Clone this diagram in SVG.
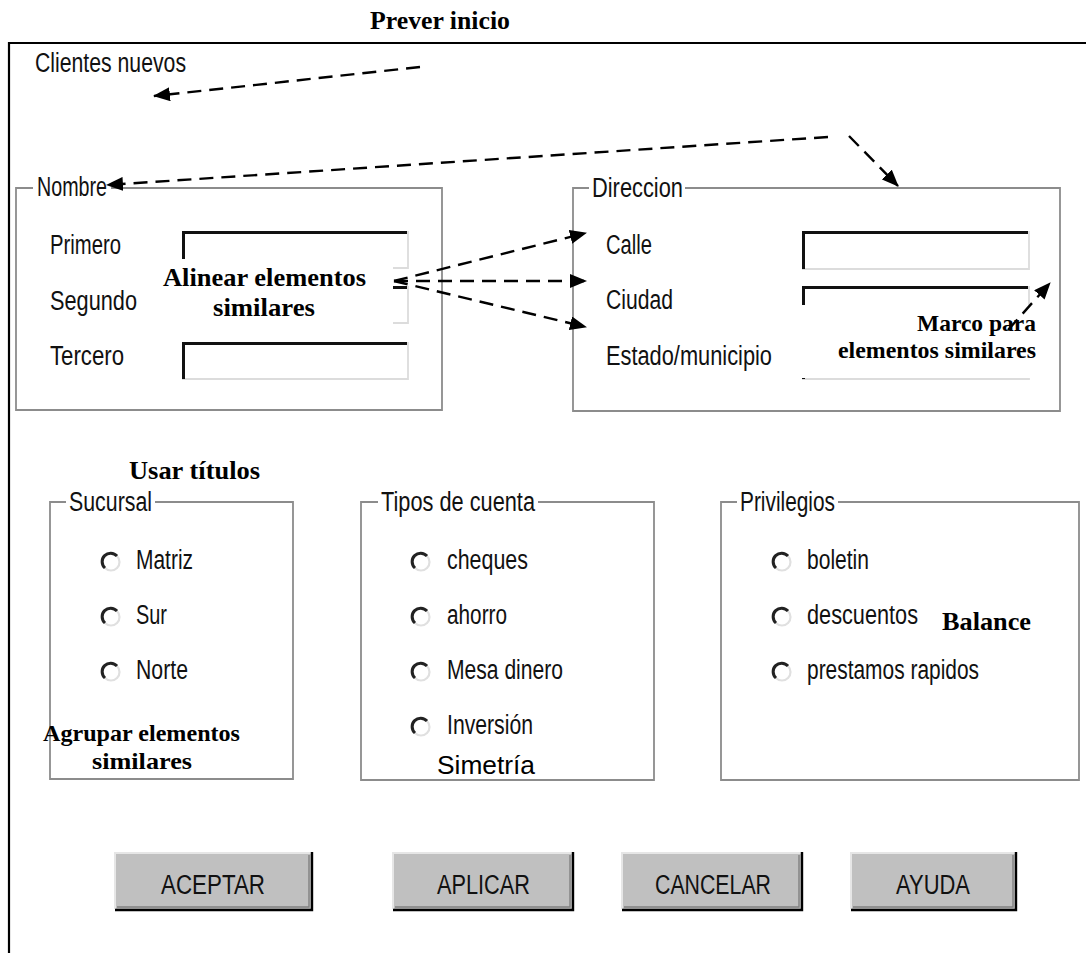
<svg xmlns="http://www.w3.org/2000/svg" width="1086" height="953" viewBox="0 0 1086 953">
  <style>
    .ui { font-family: "Liberation Sans", Arial, sans-serif; font-size: 27px; fill: #111; }
    .btn-t { font-family: "Liberation Sans", Arial, sans-serif; font-size: 27px; fill: #111; }
    .note { font-family: "Liberation Serif", "Times New Roman", serif; font-weight: bold; font-size: 25px; fill: #000; }
    .note-s { font-family: "Liberation Serif", "Times New Roman", serif; font-weight: bold; font-size: 23px; fill: #000; }
    .plain { font-family: "Liberation Sans", Arial, sans-serif; font-size: 25px; fill: #000; }
    .gb { fill: none; stroke: #8c8c8c; stroke-width: 1.8; }
    .fld-dark { fill: none; stroke: #111; stroke-width: 3; }
    .fld-light { fill: none; stroke: #dcdcdc; stroke-width: 1.8; }
    .conn { fill: none; stroke: #000; stroke-width: 2.4; stroke-dasharray: 14 8; }
    .radio-lo { fill: #fff; stroke: #e0e0e0; stroke-width: 2.2; }
    .radio-hi { fill: none; stroke: #222; stroke-width: 3; }
    .btn { fill: #c0c0c0; }
    .mask { fill: #fff; }
  </style>
  <defs>
    <marker id="head" markerUnits="userSpaceOnUse" markerWidth="18" markerHeight="14" refX="16" refY="7" orient="auto">
      <path d="M0,0 L17,7 L0,14 Z" fill="#000"/>
    </marker>
  </defs>

  <rect width="1086" height="953" fill="#fff"/>

  <!-- window frame -->
  <g id="frame">
    <path d="M9,953 V43 H1086" fill="none" stroke="#000" stroke-width="2.2"/>
    <text class="ui" x="35" y="72" textLength="151" lengthAdjust="spacingAndGlyphs">Clientes nuevos</text>
  </g>

  <!-- Nombre group -->
  <g id="nombre">
    <path class="gb" d="M33,188 H16 V410 H442 V188 H111"/>
    <text class="ui" x="37" y="196" textLength="70" lengthAdjust="spacingAndGlyphs">Nombre</text>
    <text class="ui" x="50" y="254" textLength="71" lengthAdjust="spacingAndGlyphs">Primero</text>
    <text class="ui" x="50" y="310" textLength="87" lengthAdjust="spacingAndGlyphs">Segundo</text>
    <text class="ui" x="50" y="365" textLength="74" lengthAdjust="spacingAndGlyphs">Tercero</text>
    <g id="nombre-f1">
      <path class="fld-light" d="M408,231 V268 H182"/>
      <path class="fld-dark" d="M183.5,268 V232.5 H407"/>
    </g>
    <g id="nombre-f2">
      <path class="fld-light" d="M408,286 V323 H182"/>
      <path class="fld-dark" d="M183.5,323 V287.5 H407"/>
    </g>
    <g id="nombre-f3">
      <path class="fld-light" d="M408,342 V379 H182"/>
      <path class="fld-dark" d="M183.5,379 V343.5 H407"/>
    </g>
  </g>

  <!-- Direccion group -->
  <g id="direccion">
    <path class="gb" d="M589,188 H573 V411 H1060 V188 H685"/>
    <text class="ui" x="592" y="197" textLength="91" lengthAdjust="spacingAndGlyphs">Direccion</text>
    <text class="ui" x="606" y="254" textLength="46" lengthAdjust="spacingAndGlyphs">Calle</text>
    <text class="ui" x="606" y="309" textLength="67" lengthAdjust="spacingAndGlyphs">Ciudad</text>
    <text class="ui" x="606" y="365" textLength="166" lengthAdjust="spacingAndGlyphs">Estado/municipio</text>
    <g id="dir-f1">
      <path class="fld-light" d="M1029,231 V269 H802"/>
      <path class="fld-dark" d="M803.5,269 V232.5 H1028"/>
    </g>
    <g id="dir-f2">
      <path class="fld-light" d="M1029,286 V323 H802"/>
      <path class="fld-dark" d="M803.5,323 V287.5 H1028"/>
    </g>
    <g id="dir-f3">
      <path class="fld-light" d="M1029,342 V379 H802"/>
      <path class="fld-dark" d="M803.5,379 V343.5 H1028"/>
    </g>
  </g>

  <!-- Sucursal group -->
  <g id="sucursal">
    <path class="gb" d="M66,502 H50 V779 H293 V502 H155"/>
    <text class="ui" x="69" y="511" textLength="83" lengthAdjust="spacingAndGlyphs">Sucursal</text>
    <g id="r-matriz">
      <circle class="radio-lo" cx="111" cy="562" r="8.5"/>
      <path class="radio-hi" d="M117,556 A8.5,8.5 0 1 0 105,568"/>
      <text class="ui" x="136" y="569" textLength="57" lengthAdjust="spacingAndGlyphs">Matriz</text>
    </g>
    <g id="r-sur">
      <circle class="radio-lo" cx="111" cy="617" r="8.5"/>
      <path class="radio-hi" d="M117,611 A8.5,8.5 0 1 0 105,623"/>
      <text class="ui" x="136" y="624" textLength="31" lengthAdjust="spacingAndGlyphs">Sur</text>
    </g>
    <g id="r-norte">
      <circle class="radio-lo" cx="111" cy="672" r="8.5"/>
      <path class="radio-hi" d="M117,666 A8.5,8.5 0 1 0 105,678"/>
      <text class="ui" x="136" y="679" textLength="52" lengthAdjust="spacingAndGlyphs">Norte</text>
    </g>
  </g>

  <!-- Tipos de cuenta group -->
  <g id="tipos">
    <path class="gb" d="M378,502 H361 V780 H654 V502 H538"/>
    <text class="ui" x="381" y="511" textLength="154" lengthAdjust="spacingAndGlyphs">Tipos de cuenta</text>
    <g id="r-cheques">
      <circle class="radio-lo" cx="421" cy="562" r="8.5"/>
      <path class="radio-hi" d="M427,556 A8.5,8.5 0 1 0 415,568"/>
      <text class="ui" x="447" y="569" textLength="81" lengthAdjust="spacingAndGlyphs">cheques</text>
    </g>
    <g id="r-ahorro">
      <circle class="radio-lo" cx="421" cy="617" r="8.5"/>
      <path class="radio-hi" d="M427,611 A8.5,8.5 0 1 0 415,623"/>
      <text class="ui" x="447" y="624" textLength="60" lengthAdjust="spacingAndGlyphs">ahorro</text>
    </g>
    <g id="r-mesa">
      <circle class="radio-lo" cx="421" cy="672" r="8.5"/>
      <path class="radio-hi" d="M427,666 A8.5,8.5 0 1 0 415,678"/>
      <text class="ui" x="447" y="679" textLength="116" lengthAdjust="spacingAndGlyphs">Mesa dinero</text>
    </g>
    <g id="r-inversion">
      <circle class="radio-lo" cx="421" cy="727" r="8.5"/>
      <path class="radio-hi" d="M427,721 A8.5,8.5 0 1 0 415,733"/>
      <text class="ui" x="447" y="734" textLength="86" lengthAdjust="spacingAndGlyphs">Inversión</text>
    </g>
  </g>

  <!-- Privilegios group -->
  <g id="privilegios">
    <path class="gb" d="M737,502 H721 V780 H1079 V502 H838"/>
    <text class="ui" x="740" y="511" textLength="95" lengthAdjust="spacingAndGlyphs">Privilegios</text>
    <g id="r-boletin">
      <circle class="radio-lo" cx="782" cy="562" r="8.5"/>
      <path class="radio-hi" d="M788,556 A8.5,8.5 0 1 0 776,568"/>
      <text class="ui" x="807" y="569" textLength="62" lengthAdjust="spacingAndGlyphs">boletin</text>
    </g>
    <g id="r-descuentos">
      <circle class="radio-lo" cx="782" cy="617" r="8.5"/>
      <path class="radio-hi" d="M788,611 A8.5,8.5 0 1 0 776,623"/>
      <text class="ui" x="807" y="624" textLength="111" lengthAdjust="spacingAndGlyphs">descuentos</text>
    </g>
    <g id="r-prestamos">
      <circle class="radio-lo" cx="782" cy="672" r="8.5"/>
      <path class="radio-hi" d="M788,666 A8.5,8.5 0 1 0 776,678"/>
      <text class="ui" x="807" y="679" textLength="172" lengthAdjust="spacingAndGlyphs">prestamos rapidos</text>
    </g>
  </g>

  <!-- push buttons -->
  <g id="btn-aceptar">
    <rect class="btn" x="115" y="853" width="197" height="57"/>
    <path d="M115,909 V853 H311" fill="none" stroke="#e6e6e6" stroke-width="2"/>
    <path d="M115,910 H312 V852" fill="none" stroke="#000" stroke-width="2.4"/>
    <path d="M117,907 H309 V855" fill="none" stroke="#808080" stroke-width="1.4"/>
    <text class="btn-t" x="161" y="894" textLength="104" lengthAdjust="spacingAndGlyphs">ACEPTAR</text>
  </g>
  <g id="btn-aplicar">
    <rect class="btn" x="393" y="853" width="180" height="57"/>
    <path d="M393,909 V853 H572" fill="none" stroke="#e6e6e6" stroke-width="2"/>
    <path d="M393,910 H573 V852" fill="none" stroke="#000" stroke-width="2.4"/>
    <path d="M395,907 H570 V855" fill="none" stroke="#808080" stroke-width="1.4"/>
    <text class="btn-t" x="437" y="894" textLength="93" lengthAdjust="spacingAndGlyphs">APLICAR</text>
  </g>
  <g id="btn-cancelar">
    <rect class="btn" x="622" y="853" width="180" height="57"/>
    <path d="M622,909 V853 H801" fill="none" stroke="#e6e6e6" stroke-width="2"/>
    <path d="M622,910 H802 V852" fill="none" stroke="#000" stroke-width="2.4"/>
    <path d="M624,907 H799 V855" fill="none" stroke="#808080" stroke-width="1.4"/>
    <text class="btn-t" x="655" y="894" textLength="116" lengthAdjust="spacingAndGlyphs">CANCELAR</text>
  </g>
  <g id="btn-ayuda">
    <rect class="btn" x="851" y="853" width="165" height="57"/>
    <path d="M851,909 V853 H1015" fill="none" stroke="#e6e6e6" stroke-width="2"/>
    <path d="M851,910 H1016 V852" fill="none" stroke="#000" stroke-width="2.4"/>
    <path d="M853,907 H1013 V855" fill="none" stroke="#808080" stroke-width="1.4"/>
    <text class="btn-t" x="896" y="894" textLength="74" lengthAdjust="spacingAndGlyphs">AYUDA</text>
  </g>

  <!-- design notes -->
  <g id="note-prever">
    <text class="note" x="370" y="29" textLength="140" lengthAdjust="spacingAndGlyphs">Prever inicio</text>
  </g>
  <g id="note-alinear">
    <rect class="mask" x="160" y="259" width="233" height="67"/>
    <text class="note" x="163" y="286" textLength="203" lengthAdjust="spacingAndGlyphs">Alinear elementos</text>
    <text class="note" x="213" y="316" textLength="102" lengthAdjust="spacingAndGlyphs">similares</text>
  </g>
  <g id="note-marco">
    <rect class="mask" x="802" y="305" width="229" height="73"/>
    <text class="note-s" x="917" y="331" textLength="119" lengthAdjust="spacingAndGlyphs">Marco para</text>
    <text class="note-s" x="838" y="358" textLength="198" lengthAdjust="spacingAndGlyphs">elementos similares</text>
  </g>
  <g id="note-titulos">
    <text class="note" x="129" y="479" textLength="131" lengthAdjust="spacingAndGlyphs">Usar títulos</text>
  </g>
  <g id="note-agrupar">
    <text class="note-s" x="43" y="741" textLength="197" lengthAdjust="spacingAndGlyphs">Agrupar elementos</text>
    <text class="note-s" x="92" y="769" textLength="100" lengthAdjust="spacingAndGlyphs">similares</text>
  </g>
  <g id="note-simetria">
    <text class="plain" x="437" y="774" textLength="98" lengthAdjust="spacingAndGlyphs">Simetría</text>
  </g>
  <g id="note-balance">
    <text class="note" x="942" y="630" textLength="89" lengthAdjust="spacingAndGlyphs">Balance</text>
  </g>

  <!-- connectors -->
  <g id="connectors">
    <line class="conn" x1="420" y1="67" x2="154" y2="96" marker-end="url(#head)"/>
    <line class="conn" x1="828" y1="137" x2="107" y2="185" marker-end="url(#head)"/>
    <line class="conn" x1="849" y1="136" x2="898" y2="186" marker-end="url(#head)"/>
    <line class="conn" x1="394" y1="281" x2="586" y2="233" marker-end="url(#head)"/>
    <line class="conn" x1="394" y1="281" x2="586" y2="281" marker-end="url(#head)"/>
    <line class="conn" x1="394" y1="281" x2="586" y2="327" marker-end="url(#head)"/>
    <line class="conn" x1="1008" y1="330" x2="1050" y2="283" marker-end="url(#head)"/>
  </g>
</svg>
